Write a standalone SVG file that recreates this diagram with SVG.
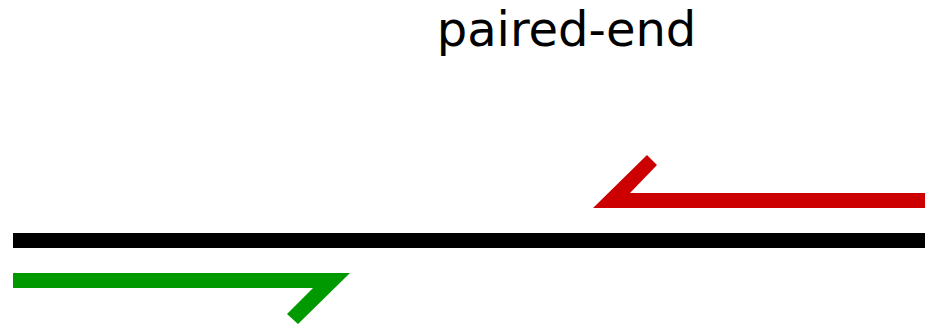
<svg xmlns="http://www.w3.org/2000/svg" width="925" height="325" viewBox="0 0 925 325">
<style>
.t{font-family:"DejaVu Sans",Verdana,sans-serif;font-size:48px;fill:#000}
</style>
<rect width="925" height="325" fill="#fff"/>
<g id="title"><text class="t" x="566.5" y="46" text-anchor="middle">paired-end</text></g>
<g id="genome"><rect x="13" y="233" width="912" height="15" fill="#000"/></g>
<g id="reverse-read"><polygon points="925,193 630,193 657,165 647,155 593,208 925,208" fill="#cc0000"/></g>
<g id="forward-read"><polygon points="13,273 350,273 298,324 287,314 313,288 13,288" fill="#009900"/></g>
</svg>
